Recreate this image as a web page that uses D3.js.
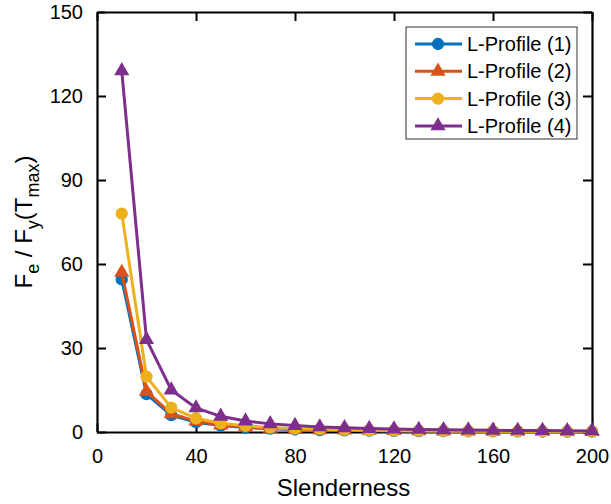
<!DOCTYPE html>
<html>
<head>
<meta charset="utf-8">
<script src="https://cdn.jsdelivr.net/npm/d3@7"></script>
<style>
  body { margin: 0; background: #fff; }
  text { font-family: "Liberation Sans", Arial, Helvetica, sans-serif; }
</style>
</head>
<body>
<svg width="611" height="504"></svg>
<script>
///////////////////////////////////////////
// Data
var slenderness = [10, 20, 30, 40, 50, 60, 70, 80, 90, 100,
                   110, 120, 130, 140, 150, 160, 170, 180, 190, 200];
var profile1 = [54.5, 13.5, 6.0, 3.5, 2.3, 1.6, 1.2, 0.9, 0.7, 0.6,
                0.5, 0.4, 0.35, 0.3, 0.27, 0.24, 0.21, 0.19, 0.17, 0.15];
var profile2 = [57.0, 14.5, 6.5, 3.9, 2.5, 1.8, 1.3, 1.0, 0.8, 0.65,
                0.55, 0.46, 0.4, 0.35, 0.31, 0.27, 0.24, 0.22, 0.2, 0.18];
var profile3 = [78.0, 19.8, 8.7, 4.9, 3.1, 2.2, 1.6, 1.2, 1.0, 0.8,
                0.65, 0.55, 0.47, 0.4, 0.35, 0.31, 0.28, 0.25, 0.22, 0.2];
var profile4 = [129.0, 33.0, 15.0, 8.6, 5.6, 3.9, 2.9, 2.3, 1.8, 1.5,
                1.25, 1.05, 0.9, 0.8, 0.7, 0.62, 0.55, 0.5, 0.45, 0.4];
var seriesNames = ["L-Profile (1)", "L-Profile (2)", "L-Profile (3)", "L-Profile (4)"];
var seriesColors = ["#0072BD", "#D95319", "#EDB120", "#7E2F8E"];
var seriesMarkers = ["circle", "triangle", "circle", "triangle"];
var xTicks = [0, 40, 80, 120, 160, 200];
var yTicks = [0, 30, 60, 90, 120, 150];

var allSeries = [profile1, profile2, profile3, profile4].map(function(vals, i) {
  return {
    name: seriesNames[i], color: seriesColors[i], marker: seriesMarkers[i],
    points: vals.map(function(v, j) { return [slenderness[j], v]; })
  };
});

///////////////////////////////////////////
// Layout
var svgWidth = 611, svgHeight = 504;
var margin = {top: 12, right: 19, bottom: 72, left: 97},
    width = svgWidth - margin.left - margin.right,
    height = svgHeight - margin.top - margin.bottom;

var svg = d3.select("svg");
var g = svg.append("g").attr("transform", "translate(" + [margin.left, margin.top] + ")");

var x = d3.scaleLinear().domain([0, 200]).range([0, width]);
var y = d3.scaleLinear().domain([0, 150]).range([height, 0]);

var tickLen = 9, fontSize = 20, labelSize = 24;

// axes (ticks inside, box on)
g.append("g").attr("transform", "translate(0," + height + ")")
  .call(d3.axisBottom(x).tickValues(xTicks).tickSizeInner(-tickLen).tickSizeOuter(0).tickPadding(17));
g.append("g")
  .call(d3.axisLeft(y).tickValues(yTicks).tickSizeInner(-tickLen).tickSizeOuter(0).tickPadding(14));
g.append("g")
  .call(d3.axisTop(x).tickValues(xTicks).tickSizeInner(-tickLen).tickSizeOuter(0).tickFormat(""));
g.append("g").attr("transform", "translate(" + width + ",0)")
  .call(d3.axisRight(y).tickValues(yTicks).tickSizeInner(-tickLen).tickSizeOuter(0).tickFormat(""));

g.selectAll(".domain").attr("stroke", "#000").attr("stroke-width", 2.2);
g.selectAll(".tick line").attr("stroke", "#000").attr("stroke-width", 2);
g.selectAll(".tick text").attr("fill", "#000").style("font-size", fontSize + "px")
  .style("font-family", "'Liberation Sans', Arial, sans-serif");

// axis labels
svg.append("text")
  .attr("x", margin.left + width / 2 - 1).attr("y", 496)
  .attr("text-anchor", "middle").style("font-size", labelSize + "px")
  .text("Slenderness");

var yl = svg.append("text")
  .attr("transform", "translate(32," + (margin.top + height / 2) + ") rotate(-90)")
  .attr("text-anchor", "middle").style("font-size", labelSize + "px");
yl.append("tspan").text("F");
yl.append("tspan").attr("dy", 7).style("font-size", "18px").text("e");
yl.append("tspan").attr("dy", -7).text(" / F");
yl.append("tspan").attr("dy", 7).style("font-size", "18px").text("y");
yl.append("tspan").attr("dy", -7).text("(T");
yl.append("tspan").attr("dy", 7).style("font-size", "18px").text("max");
yl.append("tspan").attr("dy", -7).text(")");

///////////////////////////////////////////
// Series
var line = d3.line().x(function(d) { return x(d[0]); }).y(function(d) { return y(d[1]); });
var circleSym = d3.symbol().type(d3.symbolCircle).size(Math.PI * 38);
var triSym = d3.symbol().type(d3.symbolTriangle).size(100);

function drawMarker(sel, s) {
  sel.append("path")
    .attr("d", s.marker === "circle" ? circleSym() : triSym())
    .attr("fill", s.color).attr("stroke", "none");
}

allSeries.forEach(function(s) {
  var sg = g.append("g");
  sg.append("path").datum(s.points)
    .attr("d", line).attr("fill", "none")
    .attr("stroke", s.color).attr("stroke-width", 3);
  sg.selectAll("g.mk").data(s.points).enter().append("g")
    .attr("transform", function(d) { return "translate(" + x(d[0]) + "," + y(d[1]) + ")"; })
    .each(function() { drawMarker(d3.select(this), s); });
});

///////////////////////////////////////////
// Legend
var lg = svg.append("g").attr("transform", "translate(406,27)");
lg.append("rect").attr("width", 171).attr("height", 112)
  .attr("fill", "#fff").attr("stroke", "#333").attr("stroke-width", 1);
allSeries.forEach(function(s, i) {
  var row = lg.append("g").attr("transform", "translate(0," + (17 + i * 27.3) + ")");
  row.append("line").attr("x1", 9).attr("x2", 56).attr("y1", 0).attr("y2", 0)
    .attr("stroke", s.color).attr("stroke-width", 3);
  var m = row.append("g").attr("transform", "translate(32,0)");
  drawMarker(m, s);
  row.append("text").attr("x", 61).attr("y", 7).style("font-size", "20px").text(s.name);
});
</script>
</body>
</html>
